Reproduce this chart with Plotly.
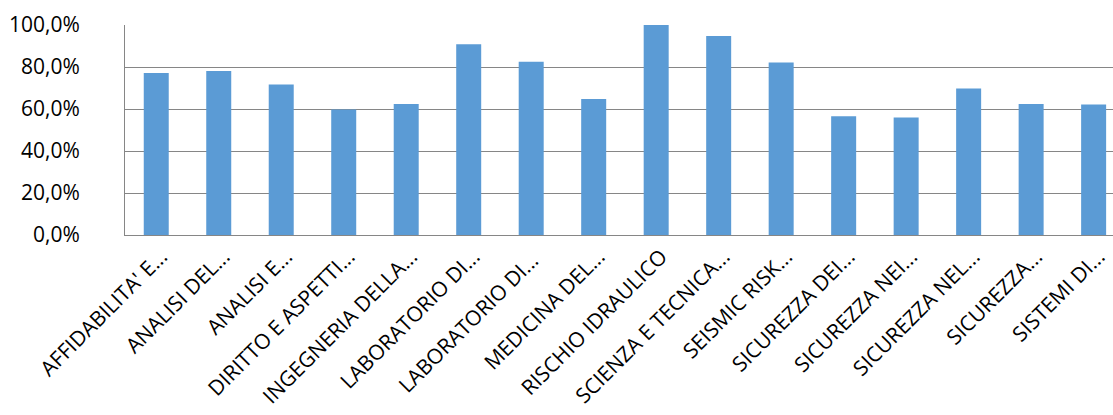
import plotly.graph_objects as go

courses = [
    "AFFIDABILITA' E...", "ANALISI DEL...", "ANALISI E...", "DIRITTO E ASPETTI...",
    "INGEGNERIA DELLA...", "LABORATORIO DI...", "LABORATORIO DI... ", "MEDICINA DEL...",
    "RISCHIO IDRAULICO", "SCIENZA E TECNICA...", "SEISMIC RISK...", "SICUREZZA DEI...",
    "SICUREZZA NEI...", "SICUREZZA NEL...", "SICUREZZA...", "SISTEMI DI...",
]
share = [0.771, 0.781, 0.717, 0.598, 0.624, 0.908, 0.825, 0.648,
         1.000, 0.948, 0.822, 0.565, 0.559, 0.698, 0.624, 0.621]

ytick_vals = [0, 0.2, 0.4, 0.6, 0.8, 1.0]
ytick_text = ["0,0%", "20,0%", "40,0%", "60,0%", "80,0%", "100,0%"]

font_family = "Open Sans, Liberation Sans, sans-serif"

fig = go.Figure(
    go.Bar(
        x=list(range(len(courses))),
        y=share,
        marker=dict(color="#5B9BD5", line=dict(width=0)),
        width=0.4,
    )
)

fig.update_layout(
    width=1113,
    height=415,
    margin=dict(l=125, r=0, t=25, b=180, autoexpand=False),
    paper_bgcolor="white",
    plot_bgcolor="white",
    showlegend=False,
    font=dict(family=font_family, size=20, color="#000000"),
)

fig.update_xaxes(
    range=[-0.5, 15.31],
    automargin=False,
    tickmode="array",
    tickvals=list(range(len(courses))),
    ticktext=courses,
    tickangle=-45,
    showgrid=False,
    showline=True,
    linecolor="#868686",
    linewidth=1,
    ticks="",
    ticklabelshift=5,
    tickfont=dict(family=font_family, size=21, color="#000000"),
)

fig.update_yaxes(
    range=[0, 1.0],
    automargin=False,
    tickmode="array",
    tickvals=ytick_vals,
    ticktext=ytick_text,
    showgrid=True,
    gridcolor="#868686",
    gridwidth=1,
    showline=True,
    linecolor="#868686",
    linewidth=1,
    zeroline=False,
    ticks="",
    ticklabelstandoff=40,
    tickfont=dict(family=font_family, size=21, color="#000000"),
)

fig.write_html("out.html")
